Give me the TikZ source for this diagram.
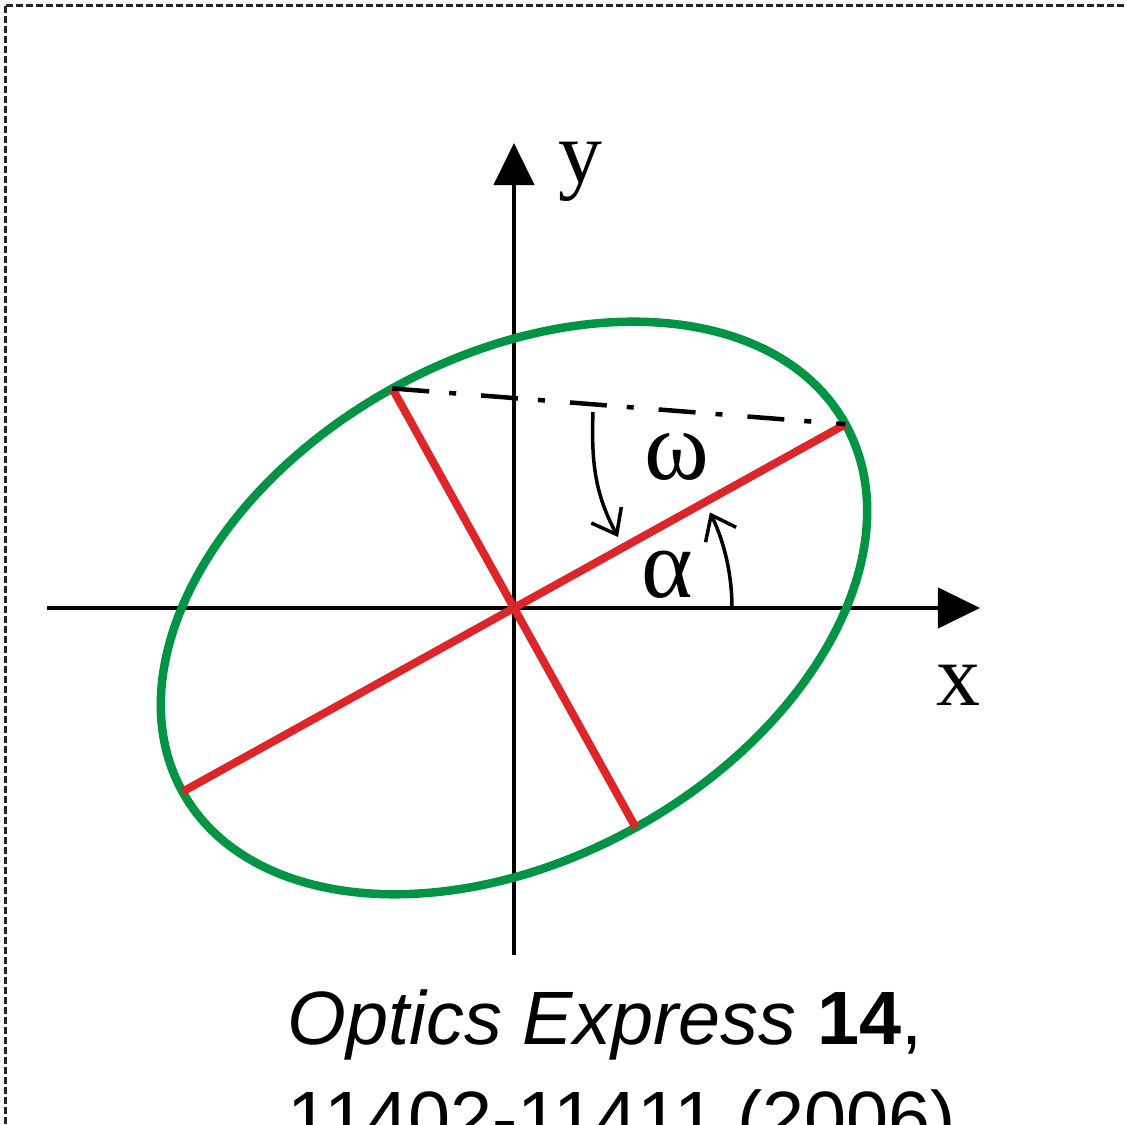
\documentclass[tikz,border=0pt]{standalone}
\usepackage{fontspec}
\setmainfont{Liberation Serif}
\setsansfont{Liberation Sans}
\usetikzlibrary{arrows.meta, positioning, calc}

\definecolor{ellgreen}{RGB}{0,148,68}
\definecolor{axisred}{RGB}{220,38,42}

\begin{document}
\begin{tikzpicture}[
    x=0.01cm, y=0.01cm,
    every node/.style={font=\fontsize{25}{28}\selectfont},
    axis/.style={line width=0.045cm, -{Triangle[length=0.42cm, width=0.4cm]}},
    orbit/.style={draw=ellgreen, line width=0.085cm},
    semiaxis/.style={draw=axisred, line width=0.08cm},
    angarrow/.style={line width=0.035cm, -{Straight Barb[length=0.22cm, width=0.34cm]}},
    frameline/.style={draw=black!85, line width=0.03cm, dash pattern=on 0.07cm off 0.03cm},
    cite/.style={anchor=base west, font=\sffamily\fontsize{21.5}{26}\selectfont, inner sep=0pt}
]
% page frame
\useasboundingbox (-514,-517) rectangle (613,608);
\clip (-514,-517) rectangle (613,608);
\draw[frameline] (-508,602) rectangle (700,-700);

% points
\coordinate (O) at (0,0);
\coordinate (xstart) at (-467,0);
\coordinate (xend) at (466,0);
\coordinate (ystart) at (0,-347);
\coordinate (yend) at (0,465);
\coordinate (majA) at (29:379);
\coordinate (majB) at (209:379);
\coordinate (minA) at (119:251);
\coordinate (minB) at (299:251);
\coordinate (omegastart) at (79,196);
\coordinate (omegaend) at (104,71);
\coordinate (alphastart) at (218,0);

% axes
\draw[axis] (xstart) -- (xend);
\draw[axis] (ystart) -- (yend);
\node (xlabel) at (444,-77) {x};
\node (ylabel) at (66,436) {y};

% ellipse and its axes
\draw[orbit, rotate=29] (O) ellipse (379 and 251);
\draw[semiaxis] (majB) -- (majA);
\draw[semiaxis] (minA) -- (minB);
\draw[line width=0.045cm, dash pattern=on 0.37cm off 0.2cm on 0.07cm off 0.25cm] (minA) -- (majA);

% angles
\draw[angarrow] (omegastart) to[out=-92, in=118] (omegaend);
\draw[angarrow] (alphastart) arc[start angle=0, end angle=26, radius=218];
\node (omega) at (163,151) {\fontsize{28}{30}\selectfont ω};
\node (alpha) at (153,33) {\fontsize{28}{30}\selectfont α};

% reference
\node[cite] (cite1) at (-227,-437) {\textit{Optics Express} \textbf{14},};
\node[cite] (cite2) at (-227,-537) {11402-11411 (2006)};
\end{tikzpicture}
\end{document}
